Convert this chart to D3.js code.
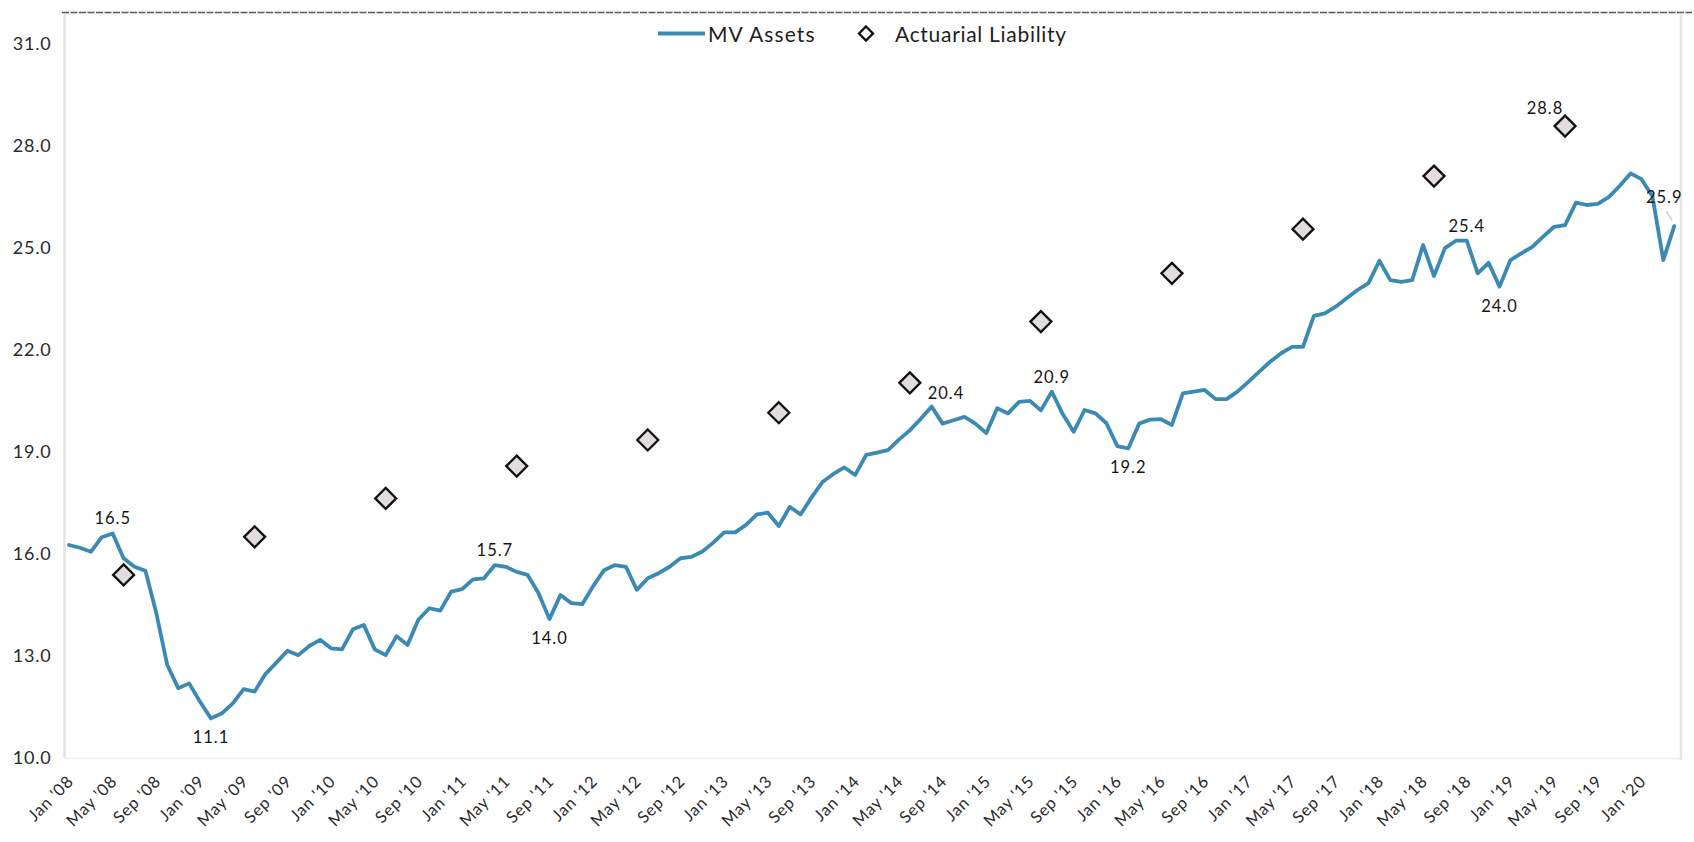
<!DOCTYPE html>
<html><head><meta charset="utf-8">
<script src="https://cdn.jsdelivr.net/npm/d3@7"></script>
<style>
html,body{margin:0;padding:0;background:#fff;}
svg{display:block;background:#fff;}
text{font-family:Lato,"Open Sans",sans-serif;}
</style></head><body>
<svg id="chart" width="1694" height="842"></svg>
<script>
// MV Assets, monthly Jan 2008 .. Apr 2020 (148 values)
const mvAssets = [
16.25,16.17,16.05,16.48,16.59,15.86,15.61,15.49,14.24,12.72,12.04,12.18,
11.64,11.15,11.30,11.59,12.01,11.94,12.46,12.79,13.14,13.01,13.28,13.46,
13.21,13.18,13.77,13.90,13.18,13.01,13.57,13.31,14.06,14.39,14.32,14.88,
14.95,15.24,15.27,15.66,15.61,15.46,15.37,14.83,14.07,14.78,14.54,14.51,
15.04,15.51,15.66,15.61,14.93,15.27,15.42,15.61,15.86,15.90,16.06,16.32,
16.62,16.62,16.84,17.15,17.20,16.81,17.37,17.15,17.65,18.10,18.34,18.53,
18.31,18.90,18.97,19.04,19.35,19.62,19.96,20.32,19.82,19.92,20.02,19.82,
19.54,20.27,20.12,20.46,20.49,20.21,20.76,20.10,19.58,20.22,20.12,19.83,
19.16,19.09,19.82,19.94,19.95,19.78,20.71,20.76,20.81,20.54,20.54,20.76,
21.05,21.35,21.64,21.89,22.08,22.08,22.99,23.06,23.26,23.51,23.75,23.95,
24.61,24.04,23.99,24.04,25.07,24.16,24.98,25.20,25.20,24.24,24.55,23.85,
24.63,24.83,25.02,25.32,25.61,25.66,26.32,26.25,26.28,26.48,26.81,27.18,
27.01,26.51,24.63,25.63
];
// Actuarial Liability, each June 2008 .. 2019 (month index from Jan 2008)
const liabilityMonths = [5,17,29,41,53,65,77,89,101,113,125,137];
const liabilityValues = [15.37,16.49,17.62,18.57,19.34,20.14,21.02,22.82,24.24,25.54,27.10,28.57];

const tickLabels = ["Jan '08","May '08","Sep '08","Jan '09","May '09","Sep '09","Jan '10","May '10","Sep '10",
"Jan '11","May '11","Sep '11","Jan '12","May '12","Sep '12","Jan '13","May '13","Sep '13","Jan '14","May '14",
"Sep '14","Jan '15","May '15","Sep '15","Jan '16","May '16","Sep '16","Jan '17","May '17","Sep '17","Jan '18",
"May '18","Sep '18","Jan '19","May '19","Sep '19","Jan '20"];
const tickStepMonths = 4;
const yTicks = [10,13,16,19,22,25,28,31];

// data labels
const labelSeries = ["mv","mv","mv","mv","mv","mv","mv","mv","mv","liab","mv"];
const labelIndex  = [4,13,39,44,79,90,97,128,131,137,147];
const labelText   = ["16.5","11.1","15.7","14.0","20.4","20.9","19.2","25.4","24.0","28.8","25.9"];
const labelSide   = ["above","below","above","below","aboveRight","above","below","above","below","aboveLeft","leader"];

const seriesNames = ["MV Assets","Actuarial Liability"];

const svg = d3.select("#chart");
const x = d3.scaleLinear().domain([0, mvAssets.length - 1]).range([69, 69 + 10.92 * (mvAssets.length - 1)]);
const y = d3.scaleLinear().domain([10, 31]).range([757.5, 43.5]);

const lineColor = "#3a8ab4";

// frame artifacts: top border, left axis, right border
svg.append("line").attr("x1", 62).attr("x2", 1692).attr("y1", 12.5).attr("y2", 12.5)
  .attr("stroke", "#5a5a5a").attr("stroke-width", 1.6).attr("stroke-dasharray", "7,1.5");
svg.append("line").attr("x1", 64.5).attr("x2", 64.5).attr("y1", 14).attr("y2", 758)
  .attr("stroke", "#e3e3e3").attr("stroke-width", 2.5);
svg.append("line").attr("x1", 1681).attr("x2", 1681).attr("y1", 14).attr("y2", 760)
  .attr("stroke", "#e6e6e6").attr("stroke-width", 2.5);
svg.append("line").attr("x1", 64).attr("x2", 1681).attr("y1", 758.5).attr("y2", 758.5)
  .attr("stroke", "#f0f0f0").attr("stroke-width", 1.5);

// y axis
const yAxis = svg.append("g").attr("transform", "translate(64.5,0)")
  .call(d3.axisLeft(y).tickValues(yTicks).tickFormat(d3.format(".1f")).tickSize(0).tickPadding(13));
yAxis.select(".domain").remove();
yAxis.selectAll("text").attr("font-size", 18).attr("fill", "#2a2a2a")
  .style("font-family", "Lato,'Open Sans',sans-serif").attr("letter-spacing", 0.8);

// x axis
const tickMonths = tickLabels.map((_, k) => k * tickStepMonths);
const xAxis = svg.append("g").attr("transform", "translate(0,757.5)")
  .call(d3.axisBottom(x).tickValues(tickMonths).tickFormat((d, k) => tickLabels[k]).tickSize(0));
xAxis.select(".domain").remove();
xAxis.selectAll("text")
  .attr("x", 0).attr("y", 0).attr("dy", 0)
  .attr("transform", "translate(5,25) rotate(-45)")
  .attr("text-anchor", "end")
  .attr("font-size", 16.5).attr("fill", "#2a2a2a").attr("letter-spacing", 0.8)
  .style("font-family", "Lato,'Open Sans',sans-serif");

// MV Assets line
const line = d3.line().x((d, i) => x(i)).y(d => y(d));
svg.append("path").datum(mvAssets).attr("d", line)
  .attr("fill", "none").attr("stroke", lineColor).attr("stroke-width", 3.8)
  .attr("stroke-linejoin", "round").attr("stroke-linecap", "round");

// diamonds
const diamond = r => `M0,${-r}L${r},0L0,${r}L${-r},0Z`;
svg.append("g").selectAll("path").data(liabilityValues).join("path")
  .attr("d", diamond(10.5))
  .attr("transform", (d, k) => `translate(${x(liabilityMonths[k])},${y(d)})`)
  .attr("fill", "#e2dcdf").attr("stroke", "#111").attr("stroke-width", 2.3);

// data labels
const sideOffsets = {
  above: {dx: 0, dy: -9, anchor: "middle"},
  below: {dx: 0, dy: 25, anchor: "middle"},
  aboveRight: {dx: -4, dy: -8, anchor: "start"},
  aboveLeft: {dx: -20, dy: -12, anchor: "middle"},
  leader: {dx: -10, dy: -23, anchor: "middle"}
};
labelText.forEach((t, k) => {
  const idx = labelIndex[k];
  let px, py;
  if (labelSeries[k] === "mv") { px = x(idx); py = y(mvAssets[idx]); }
  else { const j = liabilityMonths.indexOf(idx); px = x(idx); py = y(liabilityValues[j]); }
  const o = sideOffsets[labelSide[k]];
  if (labelSide[k] === "leader") {
    svg.append("line").attr("x1", px - 8).attr("y1", py - 15).attr("x2", px - 2).attr("y2", py - 5)
      .attr("stroke", "#cfcfcf").attr("stroke-width", 1.5);
  }
  svg.append("text").attr("x", px + o.dx).attr("y", py + o.dy)
    .attr("text-anchor", o.anchor).attr("font-size", 16.5).attr("letter-spacing", 1)
    .attr("fill", "#151515").text(t);
});

// legend
const lg = svg.append("g");
lg.append("line").attr("x1", 658).attr("x2", 705).attr("y1", 33.5).attr("y2", 33.5)
  .attr("stroke", lineColor).attr("stroke-width", 4);
lg.append("text").attr("x", 708).attr("y", 41.5).attr("font-size", 21).attr("letter-spacing", 1.1)
  .attr("fill", "#1e1e1e").text(seriesNames[0]);
lg.append("path").attr("d", diamond(7)).attr("transform", "translate(866,33.5)")
  .attr("fill", "#fff").attr("stroke", "#111").attr("stroke-width", 2.3);
lg.append("text").attr("x", 895).attr("y", 41.5).attr("font-size", 21).attr("letter-spacing", 0.7)
  .attr("fill", "#1e1e1e").text(seriesNames[1]);
</script>
</body></html>
